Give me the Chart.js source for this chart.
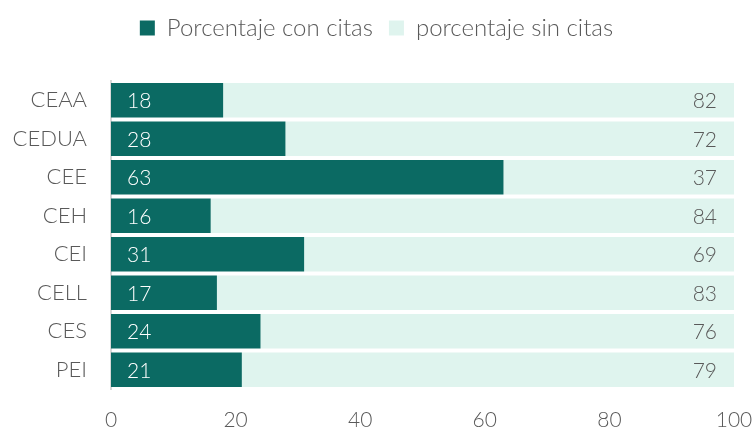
<!DOCTYPE html>
<html>
<head>
<meta charset="utf-8">
<script src="https://cdn.jsdelivr.net/npm/chart.js@4/dist/chart.umd.min.js"></script>
<style>
  html, body { margin: 0; padding: 0; background: #fff; }
</style>
</head>
<body>
<canvas id="c" width="753" height="432"></canvas>
<script>
const categories = ['CEAA', 'CEDUA', 'CEE', 'CEH', 'CEI', 'CELL', 'CES', 'PEI'];
const conCitas = [18, 28, 63, 16, 31, 17, 24, 21];
const sinCitas = [82, 72, 37, 84, 69, 83, 76, 79];
const xTicks = [0, 20, 40, 60, 80, 100];

const FONT = 'Lato';
const TEXT = '#595959';
const PLOT_TOP = 81;

// draws numbers inside each bar segment
const barLabels = {
  id: 'barLabels',
  afterDatasetsDraw(chart) {
    const ctx = chart.ctx;
    ctx.save();
    ctx.font = '300 21px ' + FONT;
    ctx.textBaseline = 'middle';
    chart.data.datasets.forEach((ds, i) => {
      const meta = chart.getDatasetMeta(i);
      meta.data.forEach((bar, j) => {
        if (i === 0) {
          ctx.fillStyle = '#ffffff';
          ctx.textAlign = 'left';
          ctx.fillText(ds.data[j], bar.base + 16, bar.y + 1);
        } else {
          ctx.fillStyle = TEXT;
          ctx.textAlign = 'right';
          ctx.fillText(ds.data[j], bar.x - 17, bar.y + 1);
        }
      });
    });
    ctx.restore();
  }
};

// push the plot area down below the legend
const legendGap = {
  id: 'legendGap',
  beforeLayout(chart) {
    const lg = chart.legend;
    if (!lg || lg._gapPatched) return;
    const fit = lg.fit;
    lg.fit = function () {
      fit.call(this);
      this.height = PLOT_TOP;
    };
    lg._gapPatched = true;
  }
};

new Chart(document.getElementById('c'), {
  type: 'bar',
  data: {
    labels: categories,
    datasets: [
      { label: 'Porcentaje con citas', data: conCitas, backgroundColor: '#0b6a63' },
      { label: 'porcentaje sin citas', data: sinCitas, backgroundColor: '#dff4ee' }
    ]
  },
  options: {
    indexAxis: 'y',
    responsive: false,
    animation: false,
    categoryPercentage: 1,
    barPercentage: 0.89,
    layout: { padding: 0 },
    scales: {
      x: {
        stacked: true,
        min: 0,
        max: 100,
        afterBuildTicks: (s) => { s.ticks = xTicks.map(v => ({ value: v })); },
        afterFit: (s) => { s.height = 43; s.paddingLeft = 0; s.paddingRight = 19; },
        grid: { display: false, drawTicks: false },
        border: { display: false },
        ticks: { padding: 19, color: TEXT, font: { family: FONT, size: 21, weight: 300 } }
      },
      y: {
        stacked: true,
        afterFit: (s) => { s.width = 111; },
        grid: { display: false, drawTicks: false },
        border: { display: true, color: '#d9d9d9', width: 2 },
        ticks: { padding: 24, color: TEXT, font: { family: FONT, size: 22, weight: 300 } }
      }
    },
    plugins: {
      legend: {
        position: 'top',
        labels: {
          boxWidth: 15,
          boxHeight: 15,
          padding: 16,
          color: TEXT,
          font: { family: FONT, size: 24, weight: 300 }
        }
      },
      tooltip: { enabled: false }
    }
  },
  plugins: [barLabels, legendGap]
});
</script>
</body>
</html>
